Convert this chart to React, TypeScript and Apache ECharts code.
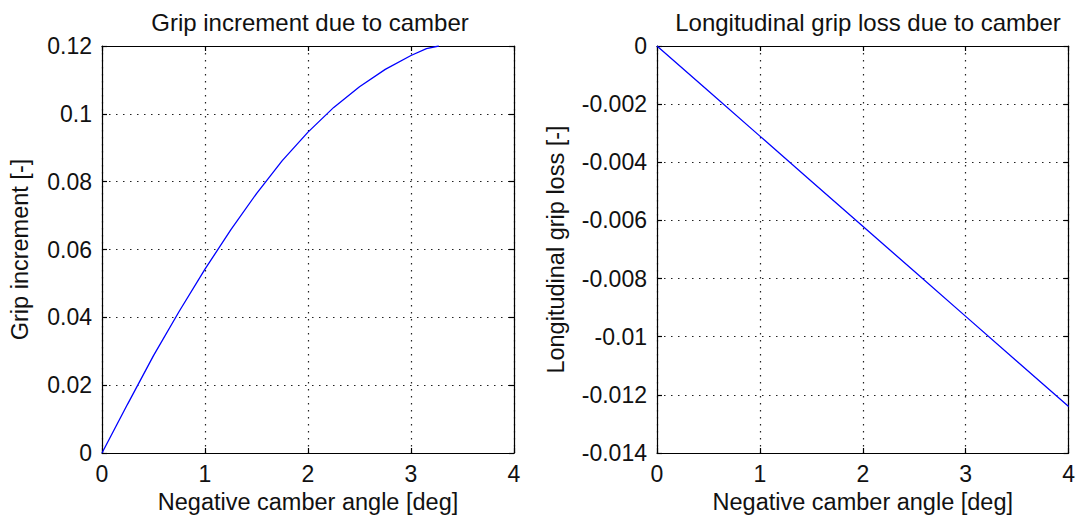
import React, { useEffect, useRef } from "react";
import * as echarts from "echarts";

const LEFT_X = [0, 0.25, 0.5, 0.75, 1.0, 1.25, 1.5, 1.75, 2.0, 2.25, 2.5, 2.75, 3.0, 3.15, 3.27];
const LEFT_Y = [0, 0.0145, 0.0287, 0.0418, 0.0542, 0.0658, 0.0765, 0.0862, 0.0946, 0.1019, 0.108, 0.1131, 0.1172, 0.1192, 0.12];

const RIGHT_X = [0, 0.5, 1.0, 1.5, 2.0, 2.5, 3.0, 3.5, 4.0];
const RIGHT_Y = [0, -0.00155, -0.0031, -0.00465, -0.0062, -0.00775, -0.0093, -0.01085, -0.0124];

const TITLES = ["Grip increment due to camber", "Longitudinal grip loss due to camber"];
const X_NAME = "Negative camber angle [deg]";
const Y_NAMES = ["Grip increment [-]", "Longitudinal grip loss [-]"];

const FONT = "'Liberation Sans', Arial, sans-serif";
const FS = 23;

export default function App() {
  const ref = useRef<HTMLDivElement>(null);
  useEffect(() => {
    if (!ref.current) return;
    const chart = echarts.init(ref.current, null, { renderer: "svg" });
    const grids = [
      { left: 102, top: 46, width: 412, height: 407 },
      { left: 657, top: 46, width: 412, height: 407 },
    ];
    const yRanges = [
      { min: 0, max: 0.12, interval: 0.02 },
      { min: -0.014, max: 0, interval: 0.002 },
    ];
    const yGaps = [70, 89];
    const axisLine = { show: true, onZero: false, lineStyle: { color: "#000", width: 1.2 } };
    const tick = { show: true, inside: true, length: 5, lineStyle: { color: "#000", width: 1.2 } };
    const split = { show: true, lineStyle: { color: "#222", width: 1.2, type: [1.5, 5.5] } };
    const labelStyle = { color: "#111", fontFamily: FONT, fontSize: FS };
    const nameStyle = { color: "#111", fontFamily: FONT, fontSize: 23.5 };

    const xAxis: any[] = [];
    const yAxis: any[] = [];
    [0, 1].forEach((g) => {
      xAxis.push({
        type: "value", gridIndex: g, position: "bottom", min: 0, max: 4, interval: 1,
        axisLine, axisTick: tick, splitLine: split,
        axisLabel: { ...labelStyle, margin: 9 },
        name: X_NAME, nameLocation: "middle", nameGap: 37,
        nameTextStyle: { ...nameStyle },
      });
      xAxis.push({
        type: "value", gridIndex: g, position: "top", min: 0, max: 4, interval: 1,
        axisLine, axisTick: tick, splitLine: { show: false }, axisLabel: { show: false },
      });
      yAxis.push({
        type: "value", gridIndex: g, position: "left", ...yRanges[g],
        axisLine, axisTick: tick, splitLine: split,
        axisLabel: { ...labelStyle, margin: 10 },
        name: Y_NAMES[g], nameLocation: "middle", nameGap: yGaps[g],
        nameTextStyle: { ...nameStyle },
      });
      yAxis.push({
        type: "value", gridIndex: g, position: "right", ...yRanges[g],
        axisLine, axisTick: tick, splitLine: { show: false }, axisLabel: { show: false },
      });
    });

    chart.setOption({
      animation: false,
      backgroundColor: "#fff",
      title: [
        { text: TITLES[0], left: 305, top: 5, textAlign: "center", textStyle: { ...nameStyle, fontWeight: "normal", fontSize: 24 } },
        { text: TITLES[1], left: 863, top: 5, textAlign: "center", textStyle: { ...nameStyle, fontWeight: "normal", fontSize: 24 } },
      ],
      grid: grids,
      xAxis,
      yAxis,
      series: [
        {
          type: "line", xAxisIndex: 0, yAxisIndex: 0, showSymbol: false, symbol: "none",
          lineStyle: { color: "#0000ff", width: 1.3 },
          data: LEFT_X.map((x, i) => [x, LEFT_Y[i]]),
        },
        {
          type: "line", xAxisIndex: 2, yAxisIndex: 2, showSymbol: false, symbol: "none",
          lineStyle: { color: "#0000ff", width: 1.3 },
          data: RIGHT_X.map((x, i) => [x, RIGHT_Y[i]]),
        },
      ],
    });
    return () => chart.dispose();
  }, []);
  return (
    <div
      ref={ref}
      style={{ position: "absolute", left: 0, top: 0, width: 1078, height: 523, background: "#fff" }}
    />
  );
}
